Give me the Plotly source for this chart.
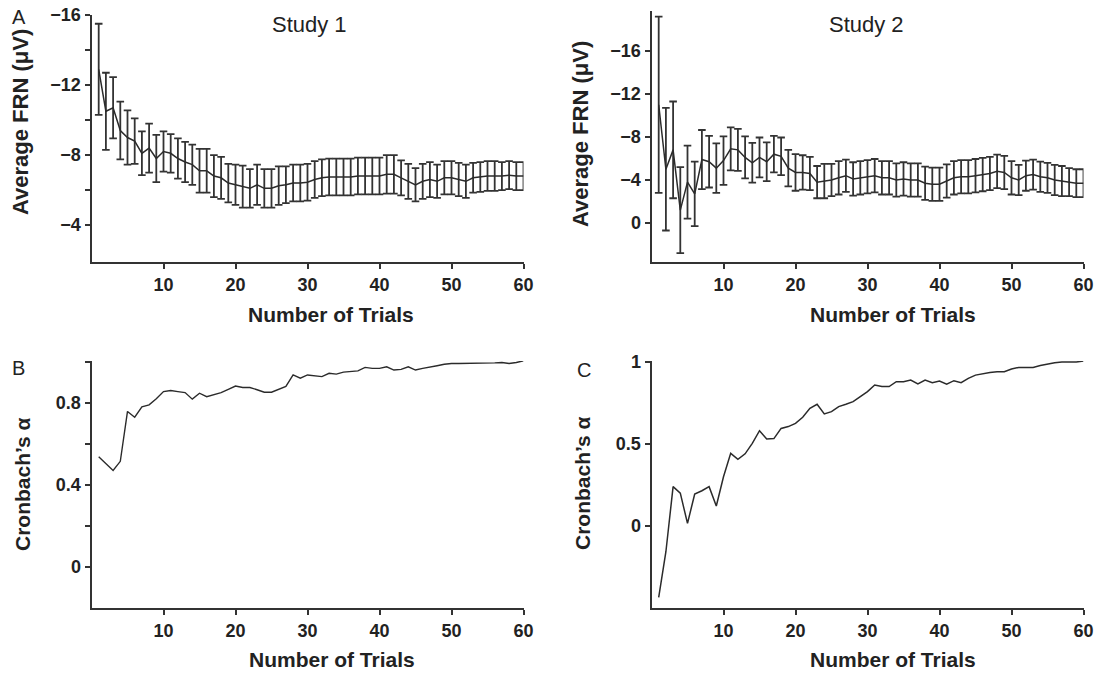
import plotly.graph_objects as go

W, H = 1100, 674

trials = list(range(1, 61))

# Study 1: average FRN (µV) and error half-width
frn1_mean = [-12.9, -10.5, -10.7, -9.4, -9.0, -8.8, -8.1, -8.4, -7.8, -8.2,
             -8.1, -7.8, -7.6, -7.45, -7.1, -7.1, -6.8, -6.7, -6.4, -6.3,
             -6.2, -6.1, -6.3, -6.1, -6.1, -6.25, -6.3, -6.4, -6.4, -6.45,
             -6.6, -6.7, -6.75, -6.75, -6.75, -6.75, -6.8, -6.8, -6.8, -6.8,
             -6.9, -6.9, -6.7, -6.5, -6.3, -6.5, -6.6, -6.5, -6.7, -6.7,
             -6.6, -6.5, -6.7, -6.75, -6.8, -6.8, -6.8, -6.85, -6.8, -6.8]
frn1_err = [2.6, 2.2, 1.75, 1.65, 1.55, 1.3, 1.25, 1.4, 1.35, 1.15,
            1.1, 1.15, 1.15, 1.15, 1.25, 1.25, 1.2, 1.2, 1.1, 1.15,
            1.2, 1.1, 1.15, 1.1, 1.1, 1.1, 1.05, 1.05, 1.05, 1.05,
            1.05, 1.05, 1.05, 1.05, 1.05, 1.05, 1.05, 1.05, 1.05, 1.05,
            1.1, 1.1, 1.0, 1.0, 0.95, 1.0, 1.0, 0.95, 0.95, 0.95,
            0.95, 0.95, 0.85, 0.85, 0.85, 0.85, 0.8, 0.8, 0.8, 0.8]

# Study 2: average FRN (µV) and error half-width
frn2_mean = [-11.0, -5.0, -6.8, -1.2, -3.8, -2.7, -5.9, -5.7, -5.1, -5.8,
             -6.9, -6.8, -6.1, -5.6, -6.1, -5.7, -6.4, -6.2, -5.1, -4.7,
             -4.7, -4.6, -3.8, -3.9, -4.0, -4.2, -4.4, -4.1, -4.2, -4.3,
             -4.4, -4.2, -4.2, -4.0, -4.1, -4.0, -4.0, -3.7, -3.6, -3.6,
             -3.9, -4.2, -4.3, -4.3, -4.4, -4.5, -4.6, -4.8, -4.7, -4.2,
             -4.0, -4.4, -4.5, -4.3, -4.2, -4.0, -3.9, -3.8, -3.7, -3.7]
frn2_err = [8.2, 5.7, 4.5, 4.0, 3.4, 3.0, 2.75, 2.4, 2.3, 2.25,
            2.0, 1.95, 1.95, 1.85, 1.85, 1.8, 1.7, 1.75, 1.7, 1.7,
            1.6, 1.55, 1.5, 1.6, 1.5, 1.55, 1.5, 1.55, 1.55, 1.55,
            1.55, 1.55, 1.55, 1.55, 1.55, 1.55, 1.55, 1.55, 1.55, 1.55,
            1.55, 1.55, 1.55, 1.55, 1.55, 1.55, 1.55, 1.55, 1.55, 1.55,
            1.4, 1.4, 1.4, 1.4, 1.4, 1.4, 1.4, 1.3, 1.3, 1.3]

# Cronbach's alpha
alpha1 = [0.537, 0.504, 0.47, 0.515, 0.758, 0.73, 0.78, 0.79, 0.82, 0.855,
          0.86, 0.855, 0.85, 0.818, 0.847, 0.83, 0.84, 0.85, 0.866, 0.882,
          0.875, 0.875, 0.864, 0.852, 0.852, 0.866, 0.88, 0.936, 0.92, 0.936,
          0.933, 0.928, 0.944, 0.94, 0.95, 0.953, 0.956, 0.973, 0.968, 0.968,
          0.976, 0.96, 0.963, 0.976, 0.96, 0.968, 0.976, 0.981, 0.988, 0.992,
          0.992, 0.992, 0.993, 0.994, 0.994, 0.995, 0.997, 0.992, 0.997, 1.005]
alpha2 = [-0.435, -0.157, 0.24, 0.2, 0.016, 0.195, 0.215, 0.24, 0.122, 0.3,
          0.443, 0.406, 0.44, 0.504, 0.581, 0.53, 0.533, 0.595, 0.606, 0.626,
          0.663, 0.717, 0.742, 0.683, 0.697, 0.728, 0.742, 0.758, 0.789, 0.819,
          0.86, 0.85, 0.85, 0.88, 0.88, 0.89, 0.866, 0.89, 0.874, 0.884,
          0.864, 0.886, 0.874, 0.9, 0.92, 0.93, 0.936, 0.94, 0.94, 0.957,
          0.967, 0.967, 0.967, 0.978, 0.988, 0.995, 1.0, 1.0, 1.0, 1.006]

x_ticks = [10, 20, 30, 40, 50, 60]
frn1_ticks = [-16, -14, -12, -10, -8, -6, -4]
frn1_ticktext = ["\u221216", "", "\u221212", "", "\u22128", "", "\u22124"]
frn2_ticks = [-16, -12, -8, -4, 0]
frn2_ticktext = ["\u221216", "\u221212", "\u22128", "\u22124", "0"]
a1_ticks = [0, 0.2, 0.4, 0.6, 0.8, 1.0]
a1_ticktext = ["0", "", "0.4", "", "0.8", ""]
a2_ticks = [0, 0.5, 1]
a2_ticktext = ["0", "0.5", "1"]

FONT = "Liberation Sans, Arial, sans-serif"
INK = "#2b2b2b"
AX = "#333333"


def px_x(a, b):
    return [a / W, b / W]


def px_y(top, bottom):
    return [1 - bottom / H, 1 - top / H]


fig = go.Figure()

fig.add_trace(go.Scatter(
    x=trials, y=frn1_mean, mode="lines", xaxis="x", yaxis="y",
    line=dict(color=INK, width=1.5),
    error_y=dict(type="data", array=frn1_err, visible=True,
                 color=AX, thickness=1.8, width=3.8),
    showlegend=False))
fig.add_trace(go.Scatter(
    x=trials, y=frn2_mean, mode="lines", xaxis="x2", yaxis="y2",
    line=dict(color=INK, width=1.5),
    error_y=dict(type="data", array=frn2_err, visible=True,
                 color=AX, thickness=1.8, width=3.8),
    showlegend=False))
fig.add_trace(go.Scatter(
    x=trials, y=alpha1, mode="lines", xaxis="x3", yaxis="y3",
    line=dict(color=INK, width=1.4), showlegend=False))
fig.add_trace(go.Scatter(
    x=trials, y=alpha2, mode="lines", xaxis="x4", yaxis="y4",
    line=dict(color=INK, width=1.5), showlegend=False))

tickfont = dict(family=FONT, size=18, color="#222", weight="bold")


def xax(domain, anchor):
    return dict(domain=domain, anchor=anchor, range=[0, 60], tickvals=x_ticks,
                showline=True, linewidth=2, linecolor=AX, showgrid=False,
                zeroline=False, ticks="outside", ticklen=5, tickwidth=2,
                tickcolor=AX, tickfont=tickfont, automargin=False)


def yax(domain, anchor, rng, tv, tt):
    return dict(domain=domain, anchor=anchor, range=rng, tickvals=tv,
                ticktext=tt, showline=True, linewidth=2, linecolor=AX,
                showgrid=False, zeroline=False, ticks="outside", ticklen=5,
                tickwidth=2, tickcolor=AX, tickfont=tickfont, automargin=False)


xl1 = px_x(91.5, 523.5)
xl2 = px_x(651.5, 1083.5)

fig.update_layout(
    width=W, height=H,
    margin=dict(l=0, r=0, t=0, b=0, pad=0),
    paper_bgcolor="white", plot_bgcolor="white",
    xaxis=xax(xl1, "y"),
    yaxis=yax(px_y(15, 262), "x", [-1.89, -16.0], frn1_ticks, frn1_ticktext),
    xaxis2=xax(xl2, "y2"),
    yaxis2=yax(px_y(11, 262), "x2", [3.63, -19.72], frn2_ticks, frn2_ticktext),
    xaxis3=xax(xl1, "y3"),
    yaxis3=yax(px_y(361, 608), "x3", [-0.2, 1.004], a1_ticks, a1_ticktext),
    xaxis4=xax(xl2, "y4"),
    yaxis4=yax(px_y(361, 608), "x4", [-0.5, 1.006], a2_ticks, a2_ticktext),
)


def ann(text, cx, cy, size, bold=False, angle=0):
    fig.add_annotation(
        text=text, x=cx / W, y=1 - cy / H, xref="paper", yref="paper",
        xanchor="center", yanchor="middle", showarrow=False, textangle=angle,
        font=dict(family=FONT, size=size, color="#222",
                  weight="bold" if bold else "normal"))


# panel titles and letters
ann("Study 1", 309, 24, 22)
ann("Study 2", 866, 24, 22)
ann("A", 19, 17, 20)
ann("B", 18, 368, 20)
ann("C", 584, 370, 20)

# axis titles
ann("Number of Trials", 331, 314, 21, bold=True)
ann("Number of Trials", 893, 314, 21, bold=True)
ann("Number of Trials", 332, 659, 21, bold=True)
ann("Number of Trials", 893, 659, 21, bold=True)
ann("Average FRN (\u03bcV)", 20, 122, 22, bold=True, angle=-90)
ann("Average FRN (\u03bcV)", 580, 134, 22, bold=True, angle=-90)
ann("Cronbach\u2019s \u03b1", 22, 484, 21, bold=True, angle=-90)
ann("Cronbach\u2019s \u03b1", 582, 483, 21, bold=True, angle=-90)

fig.write_html(
    "out.html",
    config={"displayModeBar": False},
    post_script="document.body.style.margin='0px';"
                "document.body.style.overflow='hidden';")
